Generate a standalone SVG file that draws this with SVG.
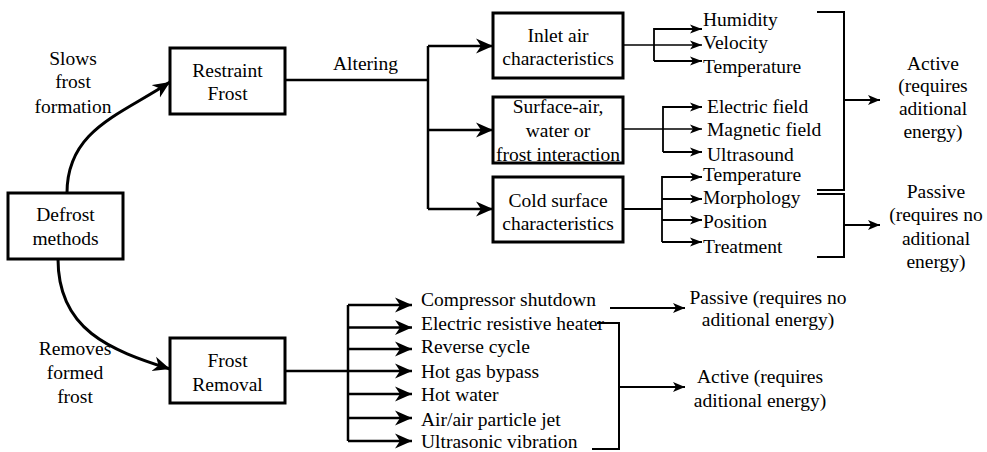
<svg xmlns="http://www.w3.org/2000/svg" width="987" height="452" viewBox="0 0 987 452">
<defs>
<marker id="big" markerUnits="userSpaceOnUse" markerWidth="19" markerHeight="17" refX="17" refY="8" orient="auto">
<path d="M0,0.5 L17,8 L0,15.5 L5,8 Z" fill="#000"/>
</marker>
<marker id="small" markerUnits="userSpaceOnUse" markerWidth="14" markerHeight="11" refX="12" refY="5" orient="auto">
<path d="M0,0.5 L12,5 L0,9.5 L3,5 Z" fill="#000"/>
</marker>
<marker id="mid" markerUnits="userSpaceOnUse" markerWidth="14" markerHeight="12" refX="12" refY="5.5" orient="auto">
<path d="M0,0.5 L12,5.5 L0,10.5 L3,5.5 Z" fill="#000"/>
</marker>
</defs>
<rect width="987" height="452" fill="#fff"/>

<g id="connectors" fill="none" stroke="#000">
<g stroke-width="3">
<path d="M67,193 C67,130 120,115 170,82" marker-end="url(#big)"/>
<path d="M58,259 C58,330 110,350 170,369" marker-end="url(#big)"/>
</g>
<g stroke-width="2.5">
<path d="M285,80 H428 M428,46 V209"/>
<path d="M428,46 H493" marker-end="url(#big)"/>
<path d="M428,130 H493" marker-end="url(#big)"/>
<path d="M428,209 H493" marker-end="url(#big)"/>
<path d="M285,371 H348 M348,305 V441"/>
<path d="M348,305 H412" marker-end="url(#big)"/>
<path d="M348,327.5 H412" marker-end="url(#big)"/>
<path d="M348,349 H412" marker-end="url(#big)"/>
<path d="M348,371 H412" marker-end="url(#big)"/>
<path d="M348,394 H412" marker-end="url(#big)"/>
<path d="M348,418 H412" marker-end="url(#big)"/>
<path d="M348,441 H412" marker-end="url(#big)"/>
</g>
<g stroke-width="1.3">
<path d="M623,45 H702" marker-end="url(#small)"/>
<path d="M623,129 H702" marker-end="url(#small)"/>
</g>
<g stroke-width="1.8">
<path d="M654,61 V29 H702" marker-end="url(#small)"/>
<path d="M654,61 H702" marker-end="url(#small)"/>
<path d="M663,152 V107 H702" marker-end="url(#small)"/>
<path d="M663,152 H702" marker-end="url(#small)"/>
<path d="M623,209 H662"/>
<path d="M662,242 V177 H702" marker-end="url(#small)"/>
<path d="M662,199 H702" marker-end="url(#small)"/>
<path d="M662,220 H702" marker-end="url(#small)"/>
<path d="M662,242 H702" marker-end="url(#small)"/>
<path d="M844,100 H880" marker-end="url(#mid)"/>
<path d="M844,225 H880" marker-end="url(#mid)"/>
<path d="M610,308 H685" marker-end="url(#mid)"/>
<path d="M619,387 H685" marker-end="url(#mid)"/>
</g>
<g stroke-width="2">
<path d="M817,12 H844 V190 H817"/>
<path d="M817,194 H844 V257 H817"/>
<path d="M597,323 H619 V449 H592"/>
</g>
</g>

<g font-size="24" fill="#000">
<g id="edge-labels">
<text font-family="Liberation Serif" text-anchor="middle" transform="translate(73,65) scale(0.8125)">Slows</text>
<text font-family="Liberation Serif" text-anchor="middle" transform="translate(73,88) scale(0.8125)">frost</text>
<text font-family="Liberation Serif" text-anchor="middle" transform="translate(73,113) scale(0.8125)">formation</text>
<text font-family="Liberation Serif" text-anchor="middle" transform="translate(75,355) scale(0.8125)">Removes</text>
<text font-family="Liberation Serif" text-anchor="middle" transform="translate(75,379) scale(0.8125)">formed</text>
<text font-family="Liberation Serif" text-anchor="middle" transform="translate(75,403) scale(0.8125)">frost</text>
<text font-family="Liberation Serif" transform="translate(333,70) scale(0.8125)">Altering</text>
</g>

<g id="defrost-methods">
<rect x="8" y="193" width="115" height="66" fill="#fff" stroke="#000" stroke-width="3"/>
<text font-family="Liberation Serif" text-anchor="middle" transform="translate(65.5,221) scale(0.8125)">Defrost</text>
<text font-family="Liberation Serif" text-anchor="middle" transform="translate(65.5,245) scale(0.8125)">methods</text>
</g>
<g id="restraint-frost">
<rect x="170" y="48" width="115" height="66" fill="#fff" stroke="#000" stroke-width="3"/>
<text font-family="Liberation Serif" text-anchor="middle" transform="translate(227.5,77) scale(0.8125)">Restraint</text>
<text font-family="Liberation Serif" text-anchor="middle" transform="translate(227.5,100) scale(0.8125)">Frost</text>
</g>
<g id="frost-removal">
<rect x="170" y="338" width="115" height="65" fill="#fff" stroke="#000" stroke-width="3"/>
<text font-family="Liberation Serif" text-anchor="middle" transform="translate(227.5,367) scale(0.8125)">Frost</text>
<text font-family="Liberation Serif" text-anchor="middle" transform="translate(227.5,391) scale(0.8125)">Removal</text>
</g>
<g id="inlet-air">
<rect x="493" y="13" width="130" height="65" fill="#fff" stroke="#000" stroke-width="3"/>
<text font-family="Liberation Serif" text-anchor="middle" transform="translate(558,42) scale(0.8125)">Inlet air</text>
<text font-family="Liberation Serif" text-anchor="middle" transform="translate(558,65) scale(0.8125)">characteristics</text>
</g>
<g id="surface-air">
<rect x="493" y="97" width="130" height="66" fill="#fff" stroke="#000" stroke-width="3"/>
<text font-family="Liberation Serif" text-anchor="middle" transform="translate(558,113) scale(0.8125)">Surface-air,</text>
<text font-family="Liberation Serif" text-anchor="middle" transform="translate(558,137) scale(0.8125)">water or</text>
<text font-family="Liberation Serif" text-anchor="middle" transform="translate(558,161) scale(0.8125)">frost interaction</text>
</g>
<g id="cold-surface">
<rect x="493" y="177" width="130" height="65" fill="#fff" stroke="#000" stroke-width="3"/>
<text font-family="Liberation Serif" text-anchor="middle" transform="translate(558,207) scale(0.8125)">Cold surface</text>
<text font-family="Liberation Serif" text-anchor="middle" transform="translate(558,230) scale(0.8125)">characteristics</text>
</g>

<g id="inlet-items">
<text font-family="Liberation Serif" transform="translate(703,26) scale(0.8125)">Humidity</text>
<text font-family="Liberation Serif" transform="translate(703,49) scale(0.8125)">Velocity</text>
<text font-family="Liberation Serif" transform="translate(703,73) scale(0.8125)">Temperature</text>
</g>
<g id="surface-items">
<text font-family="Liberation Serif" transform="translate(707,113) scale(0.8125)">Electric field</text>
<text font-family="Liberation Serif" transform="translate(707,136) scale(0.8125)">Magnetic field</text>
<text font-family="Liberation Serif" transform="translate(707,161) scale(0.8125)">Ultrasound</text>
</g>
<g id="cold-items">
<text font-family="Liberation Serif" transform="translate(703,181) scale(0.8125)">Temperature</text>
<text font-family="Liberation Serif" transform="translate(703,204) scale(0.8125)">Morphology</text>
<text font-family="Liberation Serif" transform="translate(703,228) scale(0.8125)">Position</text>
<text font-family="Liberation Serif" transform="translate(703,253) scale(0.8125)">Treatment</text>
</g>
<g id="active-top" text-anchor="middle">
<text font-family="Liberation Serif" transform="translate(933,70) scale(0.8125)">Active</text>
<text font-family="Liberation Serif" transform="translate(933,92) scale(0.8125)">(requires</text>
<text font-family="Liberation Serif" transform="translate(933,115) scale(0.8125)">aditional</text>
<text font-family="Liberation Serif" transform="translate(933,138) scale(0.8125)">energy)</text>
</g>
<g id="passive-top" text-anchor="middle">
<text font-family="Liberation Serif" transform="translate(936,198) scale(0.8125)">Passive</text>
<text font-family="Liberation Serif" transform="translate(936,221) scale(0.8125)">(requires no</text>
<text font-family="Liberation Serif" transform="translate(936,245) scale(0.8125)">aditional</text>
<text font-family="Liberation Serif" transform="translate(936,268) scale(0.8125)">energy)</text>
</g>
<g id="removal-items">
<text font-family="Liberation Serif" transform="translate(421,306) scale(0.8125)">Compressor shutdown</text>
<text font-family="Liberation Serif" transform="translate(421,330) scale(0.8125)">Electric resistive heater</text>
<text font-family="Liberation Serif" transform="translate(421,353) scale(0.8125)">Reverse cycle</text>
<text font-family="Liberation Serif" transform="translate(421,378) scale(0.8125)">Hot gas bypass</text>
<text font-family="Liberation Serif" transform="translate(421,401) scale(0.8125)">Hot water</text>
<text font-family="Liberation Serif" transform="translate(421,426) scale(0.8125)">Air/air particle jet</text>
<text font-family="Liberation Serif" transform="translate(421,448) scale(0.8125)">Ultrasonic vibration</text>
</g>
<g id="passive-bottom" text-anchor="middle">
<text font-family="Liberation Serif" transform="translate(768,304) scale(0.8125)">Passive (requires no</text>
<text font-family="Liberation Serif" transform="translate(768,326) scale(0.8125)">aditional energy)</text>
</g>
<g id="active-bottom" text-anchor="middle">
<text font-family="Liberation Serif" transform="translate(760,383) scale(0.8125)">Active (requires</text>
<text font-family="Liberation Serif" transform="translate(760,407) scale(0.8125)">aditional energy)</text>
</g>
</g>
</svg>
